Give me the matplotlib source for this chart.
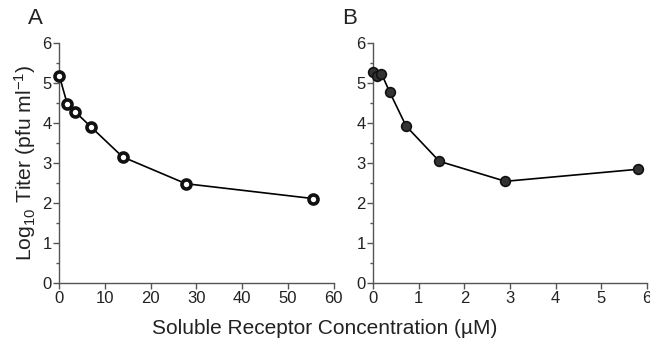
import numpy as np
import matplotlib
matplotlib.use("Agg")
import matplotlib.pyplot as plt
from matplotlib.ticker import MultipleLocator

plt.rcParams['font.family'] = ['Liberation Sans', 'DejaVu Sans']
plt.rcParams['mathtext.fontset'] = 'custom'
plt.rcParams['mathtext.rm'] = 'Liberation Sans'
plt.rcParams['mathtext.it'] = 'Liberation Sans'

#----------------------------------------------------------
# Data
#----------------------------------------------------------
conc_a = [0, 1.73, 3.46, 6.93, 13.85, 27.7, 55.4]
titer_a = [5.19, 4.49, 4.29, 3.91, 3.16, 2.49, 2.12]

conc_b = [0, 0.09, 0.18, 0.36, 0.72, 1.45, 2.9, 5.8]
titer_b = [5.29, 5.17, 5.24, 4.78, 3.93, 3.05, 2.55, 2.85]

xticks_a = [0, 10, 20, 30, 40, 50, 60]
xticks_b = [0, 1, 2, 3, 4, 5, 6]
yticks = [0, 1, 2, 3, 4, 5, 6]

#----------------------------------------------------------
def StyleAxis(ax, xticks, xmax):
    ax.set_xlim(0, xmax)
    ax.set_ylim(0, 6)
    ax.set_xticks(xticks)
    ax.set_yticks(yticks)
    ax.yaxis.set_minor_locator(MultipleLocator(0.5))
    for s in ["top", "right"]:
        ax.spines[s].set_visible(False)
    for s in ["left", "bottom"]:
        ax.spines[s].set_color("#555555")
        ax.spines[s].set_linewidth(1.0)
    ax.tick_params(which="both", direction="out", color="#555555",
                   labelsize=12, labelcolor="#222222")
    ax.tick_params(which="major", length=4, width=1.0, pad=1.5)
    ax.tick_params(which="minor", length=2.5, width=1.0)

fig = plt.figure(figsize=(6.5, 3.42), dpi=100)
ax_a = fig.add_axes([0.0912, 0.1716, 0.422, 0.7018])
ax_b = fig.add_axes([0.5743, 0.1716, 0.4206, 0.7018])

ax_a.plot(conc_a, titer_a, color="black", lw=1.2, marker="o", ms=6.5,
          mfc="white", mec="#111111", mew=2.6, clip_on=False, zorder=3)
ax_b.plot(conc_b, titer_b, color="black", lw=1.2, marker="o", ms=7,
          mfc="#333333", mec="#111111", mew=1.2, clip_on=False, zorder=3)

StyleAxis(ax_a, xticks_a, 60)
StyleAxis(ax_b, xticks_b, 6)

ax_a.set_ylabel("Log$_{10}$ Titer (pfu ml$^{-1}$)", fontsize=15.2, color="#222222", labelpad=3)
fig.text(0.5, 0.04, "Soluble Receptor Concentration (\u00b5M)", ha="center",
         va="center", fontsize=15, color="#222222")
fig.text(0.043, 0.945, "A", fontsize=16, color="#222222", va="center")
fig.text(0.527, 0.945, "B", fontsize=16, color="#222222", va="center")

fig.savefig("out.png", dpi=100)
